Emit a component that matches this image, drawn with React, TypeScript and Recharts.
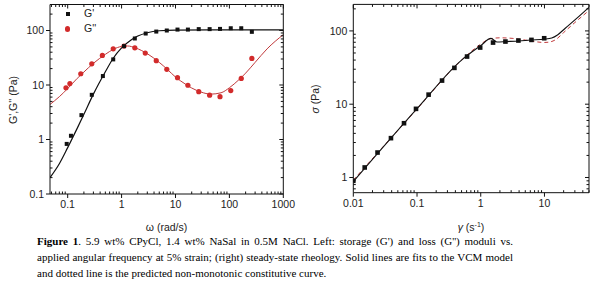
import React from "react";
import { ComposedChart, Line, Scatter, XAxis, YAxis } from "recharts";

// Left panel: oscillatory data, G' (squares) and G'' (circles)
const omegaStorage = [0.096, 0.115, 0.18, 0.28, 0.45, 0.7, 1.11, 1.76, 2.8, 4.4, 6.9, 10.9, 17, 27, 43, 67, 106, 166, 261];
const storageModulus = [0.83, 1.17, 2.8, 6.6, 14.6, 29.5, 51.7, 71.4, 88, 95.6, 100, 104, 104, 106, 106, 107, 110, 110, 94.5];
const omegaLoss = [0.093, 0.11, 0.175, 0.28, 0.44, 0.7, 1.11, 1.76, 2.75, 4.4, 6.9, 10.9, 17, 27, 43, 67, 106, 166, 261];
const lossModulus = [8.9, 10.6, 16.1, 24.5, 34.9, 46.2, 51.7, 48.2, 38.5, 27.9, 19.4, 13.6, 9.9, 7.55, 6.5, 6.1, 7.9, 13.2, 30.8];

// VCM fits
const fitOmegaStorage = [0.047, 0.07, 0.1, 0.15, 0.2, 0.3, 0.5, 0.7, 1, 1.5, 2, 3, 5, 10, 100, 1000];
const fitStorage = [0.2, 0.36, 0.71, 1.6, 2.9, 6.8, 17.5, 31, 48, 67, 79, 91, 99, 102, 103, 103];
const fitOmegaLoss = [0.047, 0.07, 0.1, 0.15, 0.2, 0.3, 0.5, 0.7, 1, 1.3, 1.8, 3, 5, 7, 10, 15, 20, 30, 45, 70, 100, 150, 200, 300, 500, 1000];
const fitLoss = [4.4, 6.1, 8.6, 13.2, 17.3, 25, 36.5, 45, 51, 52, 48, 37.5, 26, 19.5, 14, 10.5, 8.8, 7.4, 6.8, 7.2, 8.9, 12.5, 16.5, 26, 46, 84];

// Right panel: steady shear
const shearRate = [0.01, 0.0151, 0.024, 0.039, 0.0625, 0.0964, 0.152, 0.247, 0.386, 0.61, 0.98, 1.56, 2.44, 3.9, 6.25, 9.9];
const shearStress = [0.9, 1.37, 2.19, 3.44, 5.5, 8.64, 13.5, 21, 31.3, 44.7, 59.3, 69.3, 71.6, 73.9, 75.4, 79.4];
const fitRate = [0.01, 0.1, 0.5, 1, 1.45, 1.8, 2.5, 4, 6, 10, 13, 16, 21, 32, 50];
const fitStress = [0.88, 8.7, 40, 63, 79, 70.5, 71.5, 73, 75, 77, 80, 88, 108, 148, 210];
const curveRate = [0.01, 0.1, 0.5, 1, 1.4, 2, 3.2, 5, 7, 10, 12, 15, 20, 30, 50];
const curveStress = [0.92, 8.6, 40, 66, 78, 80.5, 79, 75, 71.5, 69.5, 70.5, 76, 95, 130, 190];

const leftXLabels = [0.1, 1, 10, 100, 1000];
const leftYLabels = [0.1, 1, 10, 100];
const rightXLabels = [0.01, 0.1, 1, 10];
const rightYLabels = [1, 10, 100];

const RED = "#d22b2b";
const LINE_RED = "#c0393b";
const INK = "#111";
const SANS = '"Liberation Sans", Arial, sans-serif';

const pts = (xs: number[], ys: number[]) => xs.map((x, i) => ({ x, y: ys[i] }));

// 1..9 x each decade inside the domain, used for tick marks only
const logTicks = (lo: number, hi: number) => {
  const out: number[] = [];
  for (let e = Math.floor(Math.log10(lo)); e <= Math.ceil(Math.log10(hi)); e++) {
    for (let m = 1; m <= 9; m++) {
      const v = m * Math.pow(10, e);
      if (v >= lo * 0.999 && v <= hi * 1.001) out.push(v);
    }
  }
  return out;
};

const isMajor = (v: number, labels: number[]) => labels.some((l) => Math.abs(l - v) / l < 1e-6);

const makeTick = (side: "bottom" | "left" | "top" | "right", labels: number[]) => (props: any) => {
  const { x, y, payload } = props;
  const v = payload.value;
  const major = isMajor(v, labels);
  const len = major ? 4 : 2.5;
  if (side === "bottom") {
    return (
      <g>
        <line x1={x} x2={x} y1={y} y2={major ? y + len : y - len} stroke={INK} />
        {major && (
          <text x={x} y={y + 14} textAnchor="middle" fontSize={10.5} fontFamily={SANS} fill="#222">
            {v}
          </text>
        )}
      </g>
    );
  }
  if (side === "left") {
    return (
      <g>
        <line y1={y} y2={y} x1={x} x2={major ? x - len : x + len} stroke={INK} />
        {major && (
          <text x={x - 6} y={y} dy="0.35em" textAnchor="end" fontSize={10.5} fontFamily={SANS} fill="#222">
            {v}
          </text>
        )}
      </g>
    );
  }
  if (side === "top") {
    return <line x1={x} x2={x} y1={y} y2={y + len} stroke={INK} />;
  }
  return <line y1={y} y2={y} x1={x} x2={x - len} stroke={INK} />;
};

const Square = (size: number) => (p: any) => (
  <rect x={p.cx - size / 2} y={p.cy - size / 2} width={size} height={size} fill={INK} />
);
const Dot = (p: any) => <circle cx={p.cx} cy={p.cy} r={2.6} fill={RED} />;

const axisCommon = {
  type: "number" as const,
  scale: "log" as const,
  allowDataOverflow: true,
  tickSize: 0,
  tickMargin: 0,
  interval: 0 as const,
  axisLine: { stroke: INK },
};

export default function App() {
  const lxDomain: [number, number] = [0.047, 1000];
  const lyDomain: [number, number] = [0.1, 300];
  const rxDomain: [number, number] = [0.01, 50];
  const ryDomain: [number, number] = [0.62, 230];
  const lxTicks = logTicks(0.047, 1000);
  const lyTicks = logTicks(0.1, 300);
  const rxTicks = logTicks(0.01, 50);
  const ryTicks = logTicks(0.62, 230);

  return (
    <div style={{ position: "absolute", left: 0, top: 0, width: 593, height: 294, background: "#fff", overflow: "hidden" }}>
      <div style={{ position: "absolute", left: 0, top: 0 }}>
        <ComposedChart width={300} height={240} margin={{ top: 3.5, right: 15.7, left: 49, bottom: 45 }}>
          <XAxis {...axisCommon} xAxisId="b" dataKey="x" orientation="bottom" height={1} domain={lxDomain} ticks={lxTicks} tick={makeTick("bottom", leftXLabels)} />
          <XAxis {...axisCommon} xAxisId="t" dataKey="x" orientation="top" height={1} domain={lxDomain} ticks={lxTicks} tick={makeTick("top", leftXLabels)} />
          <YAxis {...axisCommon} yAxisId="l" dataKey="y" orientation="left" width={1} domain={lyDomain} ticks={lyTicks} tick={makeTick("left", leftYLabels)} />
          <YAxis {...axisCommon} yAxisId="r" dataKey="y" orientation="right" width={1} domain={lyDomain} ticks={lyTicks} tick={makeTick("right", leftYLabels)} />
          <Line xAxisId="b" yAxisId="l" data={pts(fitOmegaLoss, fitLoss)} dataKey="y" type="monotone" stroke={LINE_RED} strokeWidth={1} dot={false} isAnimationActive={false} />
          <Line xAxisId="b" yAxisId="l" data={pts(fitOmegaStorage, fitStorage)} dataKey="y" type="monotone" stroke={INK} strokeWidth={1.2} dot={false} isAnimationActive={false} />
          <Scatter xAxisId="b" yAxisId="l" data={pts(omegaLoss, lossModulus)} dataKey="y" shape={Dot} isAnimationActive={false} />
          <Scatter xAxisId="b" yAxisId="l" data={pts(omegaStorage, storageModulus)} dataKey="y" shape={Square(4)} isAnimationActive={false} />
        </ComposedChart>
      </div>

      <div style={{ position: "absolute", left: 300, top: 0 }}>
        <ComposedChart width={293} height={240} margin={{ top: 3.4, right: 3, left: 52.3, bottom: 46.3 }}>
          <XAxis {...axisCommon} xAxisId="b" dataKey="x" orientation="bottom" height={1} domain={rxDomain} ticks={rxTicks} tick={makeTick("bottom", rightXLabels)} />
          <XAxis {...axisCommon} xAxisId="t" dataKey="x" orientation="top" height={1} domain={rxDomain} ticks={rxTicks} tick={makeTick("top", rightXLabels)} />
          <YAxis {...axisCommon} yAxisId="l" dataKey="y" orientation="left" width={1} domain={ryDomain} ticks={ryTicks} tick={makeTick("left", rightYLabels)} />
          <YAxis {...axisCommon} yAxisId="r" dataKey="y" orientation="right" width={1} domain={ryDomain} ticks={ryTicks} tick={makeTick("right", rightYLabels)} />
          <Line xAxisId="b" yAxisId="l" data={pts(curveRate, curveStress)} dataKey="y" type="monotone" stroke={LINE_RED} strokeWidth={1} strokeDasharray="4 3" dot={false} isAnimationActive={false} />
          <Line xAxisId="b" yAxisId="l" data={pts(fitRate, fitStress)} dataKey="y" type="monotone" stroke={INK} strokeWidth={1.1} dot={false} isAnimationActive={false} />
          <Scatter xAxisId="b" yAxisId="l" data={pts(shearRate, shearStress)} dataKey="y" shape={Square(4.6)} isAnimationActive={false} />
        </ComposedChart>
      </div>

      {/* legend, left panel */}
      <div style={{ position: "absolute", left: 65.7, top: 12, width: 4, height: 4, background: INK }} />
      <div style={{ position: "absolute", left: 84, top: 7, fontFamily: SANS, fontSize: 10.5, color: "#222" }}>G'</div>
      <div style={{ position: "absolute", left: 65.1, top: 26.4, width: 5.2, height: 5.2, borderRadius: "50%", background: RED }} />
      <div style={{ position: "absolute", left: 84, top: 22, fontFamily: SANS, fontSize: 10.5, color: "#222" }}>G''</div>

      {/* axis titles */}
      <div style={{ position: "absolute", left: 166.5, top: 227, transform: "translate(-50%, -50%)", fontFamily: SANS, fontSize: 10.5, color: "#222", whiteSpace: "nowrap" }}>
        ω (rad/s)
      </div>
      <div style={{ position: "absolute", left: 13, top: 100, transform: "translate(-50%, -50%) rotate(-90deg)", fontFamily: SANS, fontSize: 10.5, color: "#222", whiteSpace: "nowrap" }}>
        G',G'' (Pa)
      </div>
      <div style={{ position: "absolute", left: 471, top: 227, transform: "translate(-50%, -50%)", fontFamily: SANS, fontSize: 10.5, color: "#222", whiteSpace: "nowrap" }}>
        <i>γ</i> (s<sup style={{ fontSize: 7 }}>-1</sup>)
      </div>
      <div style={{ position: "absolute", left: 315, top: 99, transform: "translate(-50%, -50%) rotate(-90deg)", fontFamily: SANS, fontSize: 10.5, color: "#222", whiteSpace: "nowrap" }}>
        <i>σ</i> (Pa)
      </div>

      {/* caption */}
      <div style={{ position: "absolute", left: 37, top: 233, width: 476, fontFamily: '"Liberation Serif", "Times New Roman", serif', fontSize: 11, lineHeight: "16px", color: "#000" }}>
        <div style={{ textAlign: "justify", textAlignLast: "justify" }}>
          <b>Figure 1</b>. 5.9 wt% CPyCl, 1.4 wt% NaSal in 0.5M NaCl. Left: storage (G') and loss (G'') moduli vs.
        </div>
        <div style={{ textAlign: "justify", textAlignLast: "justify" }}>
          applied angular frequency at 5% strain; (right) steady-state rheology. Solid lines are fits to the VCM model
        </div>
        <div>and dotted line is the predicted non-monotonic constitutive curve.</div>
      </div>
    </div>
  );
}
